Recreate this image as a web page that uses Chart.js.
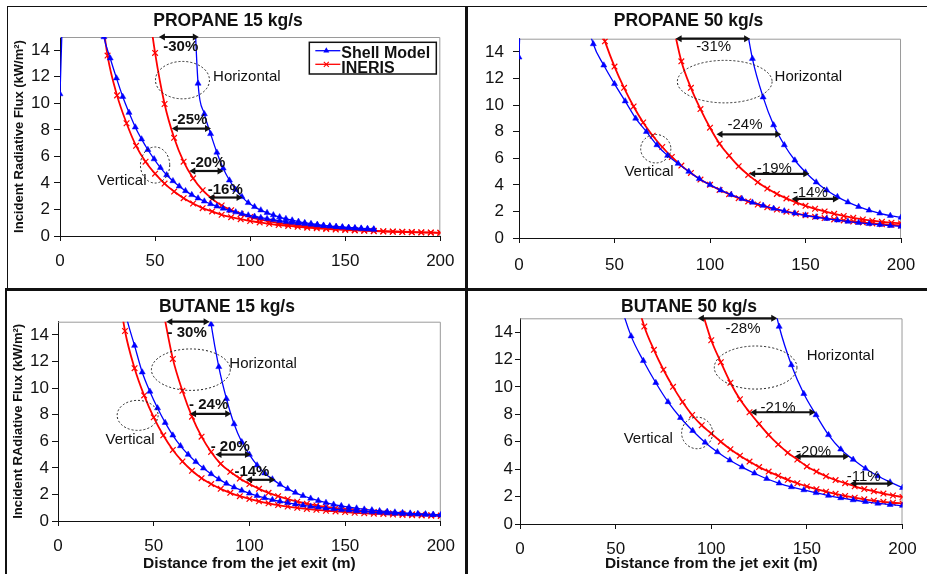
<!DOCTYPE html>
<html>
<head>
<meta charset="utf-8">
<title>Incident radiative flux - Shell Model vs INERIS</title>
<script src="https://cdn.jsdelivr.net/npm/chart.js@4.4.1/dist/chart.umd.min.js"></script>
<style>
  body { margin: 0; background: #fff; }
  #page { position: relative; width: 927px; height: 574px; overflow: hidden; background: #fff; }
  #page canvas { position: absolute; }
  .rule { position: absolute; background: #111; }
</style>
</head>
<body>
<div id="page">
  <canvas id="propane15" width="457" height="281" style="left:8px;top:7px"></canvas>
  <canvas id="propane50" width="459" height="281" style="left:468px;top:7px"></canvas>
  <canvas id="butane15" width="458" height="283" style="left:7px;top:291px"></canvas>
  <canvas id="butane50" width="459" height="283" style="left:468px;top:291px"></canvas>
  <div class="rule" style="left:7px;top:6px;width:920px;height:1px"></div>
  <div class="rule" style="left:7px;top:6px;width:1px;height:282px"></div>
  <div class="rule" style="left:5px;top:288px;width:2px;height:286px"></div>
  <div class="rule" style="left:465px;top:6px;width:3px;height:568px"></div>
  <div class="rule" style="left:5px;top:288px;width:922px;height:3px"></div>
</div>
<script>
// distances (m) and incident flux (kW/m2)
// horizontal-flame curves start later: they line up with the END of their x grid

// PROPANE 15 kg/s
const p15ShellX = [0, 3.3, 6.6, 9.9, 13.2, 16.5, 19.8, 23.1, 26.4, 29.7, 33, 36.3, 39.6, 42.9, 46.2, 49.5, 52.8, 56.1, 59.4, 62.7,
  66, 69.3, 72.6, 75.9, 79.2, 82.5, 85.8, 89.1, 92.4, 95.7, 99, 102.3, 105.6, 108.9, 112.2, 115.5, 118.8, 122.1, 125.4, 128.7,
  132, 135.3, 138.6, 141.9, 145.2, 148.5, 151.8, 155.1, 158.4, 161.7, 165];
const p15ShellVert = [10.7, 25, 30, 30, 27, 22, 18, 15.0, 13.4, 11.9, 10.5, 9.3, 8.2, 7.3, 6.5, 5.8, 5.15, 4.6, 4.15, 3.75,
  3.4, 3.1, 2.85, 2.62, 2.42, 2.24, 2.08, 1.93, 1.8, 1.68, 1.57, 1.47, 1.38, 1.3, 1.22, 1.15, 1.08, 1.02, 0.97, 0.92,
  0.87, 0.82, 0.78, 0.74, 0.7, 0.67, 0.64, 0.61, 0.58, 0.55, 0.52];
const p15ShellHorz = [22, 11.5, 9.2, 7.7, 6.3, 5.1, 4.2, 3.5, 2.95, 2.5, 2.2, 1.95, 1.75, 1.58, 1.43, 1.3, 1.19, 1.09, 1.0, 0.93,
  0.86, 0.8, 0.75, 0.7, 0.66, 0.62, 0.58, 0.55, 0.52, 0.49];
const p15InerisX = [20, 25, 30, 35, 40, 45, 50, 55, 60, 65, 70, 75, 80, 85, 90, 95, 100, 105, 110, 115, 120, 125, 130, 135,
  140, 145, 150, 155, 160, 165, 170, 175, 180, 185, 190, 195, 200];
const p15InerisVert = [19, 13.6, 10.6, 8.5, 6.8, 5.6, 4.7, 3.95, 3.35, 2.85, 2.45, 2.1, 1.85, 1.6, 1.42, 1.27, 1.13, 1.02, 0.92, 0.83,
  0.76, 0.69, 0.63, 0.58, 0.53, 0.49, 0.45, 0.42, 0.39, 0.36, 0.34, 0.32, 0.3, 0.28, 0.27, 0.25, 0.24];
const p15InerisHorz = [19, 13.8, 9.95, 7.4, 5.6, 4.35, 3.45, 2.8, 2.3, 1.95, 1.65, 1.43, 1.25, 1.1, 0.98, 0.88, 0.8, 0.72, 0.66, 0.6,
  0.55, 0.5, 0.46, 0.42, 0.39, 0.36, 0.34, 0.32, 0.3, 0.28, 0.27, 0.25];

// PROPANE 50 kg/s
const p50ShellX = [0, 5.6, 11.1, 16.7, 22.2, 27.8, 33.3, 38.9, 44.4, 50, 55.6, 61.1, 66.7, 72.2, 77.8, 83.3, 88.9, 94.4, 100,
  105.6, 111.1, 116.7, 122.2, 127.8, 133.3, 138.9, 144.4, 150, 155.6, 161.1, 166.7, 172.2, 177.8, 183.3, 188.9, 194.4, 200];
const p50ShellVert = [13.6, 40, 45, 42, 35, 26, 18, 14.6, 13.0, 11.6, 10.3, 9.0, 8.0, 7.0, 6.2, 5.6, 5.0, 4.45, 4.0,
  3.6, 3.25, 2.95, 2.68, 2.44, 2.22, 2.03, 1.86, 1.71, 1.57, 1.45, 1.34, 1.24, 1.15, 1.07, 1.0, 0.93, 0.87];
const p50ShellHorz = [18, 13.5, 10.6, 8.5, 7.0, 5.85, 4.95, 4.2, 3.6, 3.1, 2.7, 2.36, 2.08, 1.86, 1.68, 1.55];
const p50InerisX = [40, 45, 50, 55, 60, 65, 70, 75, 80, 85, 90, 95, 100, 105, 110, 115, 120, 125, 130, 135, 140, 145, 150,
  155, 160, 165, 170, 175, 180, 185, 190, 195, 200];
const p50InerisVert = [17, 14.8, 12.9, 11.3, 9.9, 8.7, 7.7, 6.85, 6.1, 5.45, 4.9, 4.4, 4.0, 3.62, 3.3, 3.0, 2.75, 2.52, 2.32, 2.14,
  1.98, 1.84, 1.71, 1.6, 1.5, 1.4, 1.32, 1.24, 1.17, 1.1, 1.04, 0.99, 0.94];
const p50InerisHorz = [16.5, 13.3, 11.3, 9.7, 8.3, 7.1, 6.2, 5.4, 4.75, 4.2, 3.72, 3.32, 2.98, 2.68, 2.42, 2.2, 2.0, 1.82, 1.66, 1.52,
  1.4, 1.3, 1.22, 1.15, 1.1];

// BUTANE 15 kg/s
const b15ShellX = [28, 32, 36, 40, 44, 48, 52, 56, 60, 64, 68, 72, 76, 80, 84, 88, 92, 96, 100, 104, 108, 112, 116, 120, 124,
  128, 132, 136, 140, 144, 148, 152, 156, 160, 164, 168, 172, 176, 180, 184, 188, 192, 196, 200];
const b15ShellVert = [22, 18, 15.2, 13.2, 11.2, 9.75, 8.5, 7.4, 6.45, 5.65, 5.0, 4.45, 3.97, 3.54, 3.15, 2.82, 2.54, 2.3, 2.08, 1.9,
  1.74, 1.6, 1.48, 1.37, 1.27, 1.18, 1.1, 1.03, 0.96, 0.9, 0.85, 0.8, 0.75, 0.71, 0.67, 0.64, 0.6, 0.57, 0.55, 0.52,
  0.5, 0.48, 0.46, 0.44];
const b15ShellHorz = [19, 14.8, 11.6, 9.2, 7.3, 5.95, 5.0, 4.2, 3.6, 3.15, 2.75, 2.42, 2.14, 1.9, 1.7, 1.53, 1.38, 1.25, 1.14, 1.04,
  0.96, 0.88, 0.82, 0.76, 0.71, 0.66, 0.62, 0.58, 0.55, 0.52, 0.49, 0.46];
const b15InerisX = [30, 35, 40, 45, 50, 55, 60, 65, 70, 75, 80, 85, 90, 95, 100, 105, 110, 115, 120, 125, 130, 135, 140, 145,
  150, 155, 160, 165, 170, 175, 180, 185, 190, 195, 200];
const b15InerisVert = [19, 14.3, 11.5, 9.45, 7.8, 6.45, 5.35, 4.48, 3.78, 3.22, 2.78, 2.42, 2.12, 1.87, 1.66, 1.48, 1.33, 1.2, 1.09, 0.99,
  0.91, 0.84, 0.77, 0.72, 0.67, 0.62, 0.58, 0.55, 0.52, 0.49, 0.46, 0.44, 0.42, 0.4, 0.38];
const b15InerisHorz = [15.8, 12.2, 9.8, 7.85, 6.35, 5.2, 4.3, 3.7, 3.2, 2.78, 2.42, 2.12, 1.87, 1.64, 1.45, 1.3, 1.17, 1.06, 0.96, 0.88,
  0.81, 0.74, 0.68, 0.63, 0.58, 0.54, 0.5, 0.47, 0.44, 0.41];

// BUTANE 50 kg/s
const b50ShellX = [45.2, 51.6, 58.1, 64.5, 71, 77.4, 83.9, 90.3, 96.8, 103.2, 109.7, 116.1, 122.6, 129, 135.5, 141.9, 148.4,
  154.8, 161.3, 167.7, 174.2, 180.6, 187.1, 193.5, 200];
const b50ShellVert = [20, 16.5, 13.7, 11.9, 10.3, 8.9, 7.75, 6.8, 5.95, 5.25, 4.65, 4.15, 3.7, 3.3, 2.97, 2.7, 2.48, 2.27, 2.07, 1.9,
  1.75, 1.62, 1.5, 1.41, 1.34];
const b50ShellHorz = [18.5, 14.4, 11.6, 9.5, 7.95, 6.5, 5.45, 4.7, 4.05, 3.5, 3.05, 2.65];
const b50InerisX = [55, 60, 65, 70, 75, 80, 85, 90, 95, 100, 105, 110, 115, 120, 125, 130, 135, 140, 145, 150, 155, 160, 165,
  170, 175, 180, 185, 190, 195, 200];
const b50InerisVert = [21, 17, 14.4, 12.7, 11.25, 10.0, 8.9, 7.95, 7.2, 6.6, 6.0, 5.45, 4.98, 4.55, 4.15, 3.82, 3.52, 3.22, 2.97, 2.74,
  2.54, 2.36, 2.2, 2.05, 1.92, 1.8, 1.7, 1.62, 1.55, 1.5];
const b50InerisHorz = [15.6, 13.4, 11.8, 10.3, 9.1, 8.15, 7.3, 6.5, 5.8, 5.2, 4.7, 4.2, 3.82, 3.48, 3.2, 2.98, 2.75, 2.55, 2.38, 2.22,
  2.08, 1.97];

// annotations, in data units: [from x, to x, at y, label, label x, label y]
const p15Arrows = [[52, 73, 15, '-30%', 63.5, 14.25], [58.8, 79.4, 8.1, '-25%', 68.3, 8.79],
  [68, 86, 4.9, '-20%', 77.8, 5.49], [78, 96, 2.9, '-16%', 86.9, 3.45]];
const p50Arrows = [[82, 121, 15, '-31%', 101.9, 14.4], [103.4, 137.3, 7.8, '-24%', 118.3, 8.54],
  [120.5, 152, 4.83, '-19%', 133.7, 5.23], [142.7, 167.5, 2.94, '-14%', 152.5, 3.42]];
const b15Arrows = [[56.6, 79.2, 15, '- 30%', 67.5, 14.15], [69, 90.5, 8.07, '- 24%', 78.7, 8.75],
  [82.3, 100.8, 5.0, '- 20%', 90, 5.58], [98.2, 113.6, 3.1, '-14%', 101.3, 3.68]];
const b50Arrows = [[93, 134.5, 15, '-28%', 116.6, 14.26], [120.5, 154.5, 8.15, '-21%', 134.9, 8.46],
  [143.6, 172.1, 4.93, '-20%', 153.5, 5.25], [172.6, 195.2, 2.95, '-11%', 179.7, 3.46]];
// dotted ellipses: [centre x, centre y, half width (m), half height (kW/m2)]
const p15Rings = [[64.4, 11.75, 14.2, 1.41], [50, 5.35, 7.7, 1.36]];
const p50Rings = [[107.7, 11.77, 24.8, 1.6], [71.6, 6.72, 7.9, 1.07]];
const b15Rings = [[69.4, 11.39, 20.6, 1.56], [41.6, 7.95, 10.7, 1.13]];
const b50Rings = [[123.2, 11.41, 21.6, 1.57], [92.6, 6.64, 8.1, 1.15]];
// [text, left x, middle y]
const p15Words = [['Horizontal', 80.5, 12.0], ['Vertical', 19.6, 4.15]];
const p50Words = [['Horizontal', 133.8, 12.1], ['Vertical', 55.2, 4.98]];
const b15Words = [['Horizontal', 89.5, 11.8], ['Vertical', 24.8, 6.1]];
const b50Words = [['Horizontal', 149.9, 12.26], ['Vertical', 54.2, 6.21]];

const FONT = "'Liberation Sans', Arial, Helvetica, sans-serif";
const BLUE = '#0000ff';
const RED = '#ff0000';
Chart.defaults.font.family = FONT;
Chart.defaults.color = '#111';

function tail(xs, ys) {
  const off = xs.length - ys.length;
  return ys.map((y, i) => ({ x: xs[off + i], y: y }));
}

function curves(sx, sv, sh, ix, iv, ih) {
  const shell = { borderColor: BLUE, backgroundColor: BLUE, borderWidth: 1.3, pointStyle: 'triangle',
    pointRadius: 3.5, pointBackgroundColor: BLUE, pointBorderColor: BLUE, pointBorderWidth: 0.5 };
  const ineris = { borderColor: RED, backgroundColor: RED, borderWidth: 1.8, pointStyle: 'crossRot',
    pointRadius: 4, pointBorderColor: RED, pointBorderWidth: 1.2 };
  return [
    Object.assign({ label: 'Shell Model', data: tail(sx, sv) }, shell),
    Object.assign({ label: 'Shell Model', data: tail(sx, sh) }, shell),
    Object.assign({ label: 'INERIS', data: tail(ix, iv) }, ineris),
    Object.assign({ label: 'INERIS', data: tail(ix, ih) }, ineris)
  ];
}

// grey top and right edge of the plot area
const frame = {
  id: 'frame',
  beforeDatasetsDraw(chart) {
    const a = chart.chartArea, c = chart.ctx;
    c.save();
    c.strokeStyle = '#9a9a9a';
    c.lineWidth = 1;
    c.beginPath();
    c.moveTo(a.left, a.top + 0.5);
    c.lineTo(a.right - 0.5, a.top + 0.5);
    c.lineTo(a.right - 0.5, a.bottom);
    c.stroke();
    c.restore();
  }
};

function arrowHead(c, x, y, dir) {
  c.beginPath();
  c.moveTo(x, y);
  c.lineTo(x - dir * 6, y - 3.5);
  c.lineTo(x - dir * 6, y + 3.5);
  c.closePath();
  c.fill();
}

function drawLegend(c, a) {
  const L = a.right - 131, T = a.top + 5.3, W = 127, H = 31.7;
  c.fillStyle = '#fff';
  c.fillRect(L, T, W, H);
  // Shell Model
  c.strokeStyle = BLUE; c.fillStyle = BLUE; c.lineWidth = 1.3;
  c.beginPath(); c.moveTo(L + 6, T + 8.4); c.lineTo(L + 31, T + 8.4); c.stroke();
  c.beginPath(); c.moveTo(L + 17, T + 4.9); c.lineTo(L + 20, T + 10.2); c.lineTo(L + 14, T + 10.2); c.closePath(); c.fill();
  // INERIS
  c.strokeStyle = RED; c.lineWidth = 1.3;
  c.beginPath(); c.moveTo(L + 6, T + 22); c.lineTo(L + 31, T + 22); c.stroke();
  c.lineWidth = 1.1;
  c.beginPath(); c.moveTo(L + 14.5, T + 19.5); c.lineTo(L + 19.5, T + 24.5);
  c.moveTo(L + 19.5, T + 19.5); c.lineTo(L + 14.5, T + 24.5); c.stroke();
  c.fillStyle = '#111';
  c.font = 'bold 16px ' + FONT;
  c.textAlign = 'left'; c.textBaseline = 'middle';
  c.fillText('Shell Model', L + 32, T + 11);
  c.fillText('INERIS', L + 32, T + 26.5);
  c.strokeStyle = '#111'; c.lineWidth = 1.5;
  c.strokeRect(L, T, W, H);
}

function notes(p) {
  return {
    id: 'notes',
    afterDatasetsDraw(chart) {
      const c = chart.ctx, sx = chart.scales.x, sy = chart.scales.y;
      const X = v => sx.getPixelForValue(v), Y = v => sy.getPixelForValue(v);
      c.save();
      c.strokeStyle = '#222'; c.lineWidth = 1; c.setLineDash([2, 2]);
      p.rings.forEach(e => {
        c.beginPath();
        c.ellipse(X(e[0]), Y(e[1]), X(e[0] + e[2]) - X(e[0]), Y(e[1]) - Y(e[1] + e[3]), 0, 0, 2 * Math.PI);
        c.stroke();
      });
      c.setLineDash([]);
      c.fillStyle = '#111'; c.strokeStyle = '#111'; c.lineWidth = 2.2;
      p.arrows.forEach(a => {
        const x1 = X(a[0]), x2 = X(a[1]), y = Y(a[2]);
        c.beginPath(); c.moveTo(x1 + 3, y); c.lineTo(x2 - 3, y); c.stroke();
        arrowHead(c, x1, y, -1);
        arrowHead(c, x2, y, 1);
      });
      c.textAlign = 'center'; c.textBaseline = 'middle';
      c.font = (p.boldPct ? 'bold ' : '') + '15px ' + FONT;
      p.arrows.forEach(a => c.fillText(a[3], X(a[4]), Y(a[5])));
      c.textAlign = 'left';
      c.font = '15px ' + FONT;
      p.words.forEach(w => c.fillText(w[0], X(w[1]), Y(w[2])));
      if (p.legend) drawLegend(c, chart.chartArea);
      c.restore();
    }
  };
}

function panel(id, p) {
  return new Chart(document.getElementById(id), {
    type: 'line',
    data: { datasets: p.datasets },
    options: {
      responsive: false,
      animation: false,
      events: [],
      layout: { padding: { left: 0, right: p.padRight, top: 0, bottom: 0 } },
      elements: { line: { cubicInterpolationMode: 'monotone' } },
      plugins: {
        legend: { display: false },
        tooltip: { enabled: false },
        title: { display: true, text: p.title, color: '#111', font: { size: 17.5, weight: 'bold' },
          padding: { top: p.titleTop, bottom: p.titleBottom } }
      },
      scales: {
        x: {
          type: 'linear', min: 0, max: 200,
          border: { color: '#111' },
          grid: { drawOnChartArea: false, color: '#111', tickLength: 5 },
          ticks: { stepSize: 50, padding: p.xTickPad, font: { size: 17 }, color: '#111', maxRotation: 0 },
          title: { display: !!p.xTitle, text: p.xTitle || '', color: '#111', font: { size: 15.5, weight: 'bold' },
            padding: { top: 0, bottom: 1 } },
          afterFit: s => { s.height = p.xH; }
        },
        y: {
          type: 'linear', min: 0, max: 15,
          border: { color: '#111' },
          grid: { drawOnChartArea: false, color: '#111', tickLength: p.yTickLen },
          ticks: { stepSize: 2, includeBounds: false, padding: p.yTickPad, font: { size: 17 }, color: '#111' },
          title: { display: !!p.yTitle, text: p.yTitle || '', color: '#111', font: { size: 13, weight: 'bold' },
            padding: { top: 4, bottom: 0 } },
          afterFit: s => { s.width = p.yW; }
        }
      }
    },
    plugins: [frame, notes(p)]
  });
}

panel('propane15', {
  title: 'PROPANE 15 kg/s', yTitle: 'Incident Radiative Flux (kW/m²)',
  datasets: curves(p15ShellX, p15ShellVert, p15ShellHorz, p15InerisX, p15InerisVert, p15InerisHorz),
  arrows: p15Arrows, rings: p15Rings, words: p15Words, boldPct: true, legend: true,
  yW: 52, padRight: 17, titleTop: 4, titleBottom: 5, xH: 52, yTickLen: 6, yTickPad: 4, xTickPad: 10.5
});
panel('propane50', {
  title: 'PROPANE 50 kg/s',
  datasets: curves(p50ShellX, p50ShellVert, p50ShellHorz, p50InerisX, p50InerisVert, p50InerisHorz),
  arrows: p50Arrows, rings: p50Rings, words: p50Words, boldPct: false,
  yW: 51, padRight: 18, titleTop: 4, titleBottom: 6.7, xH: 50, yTickLen: 6, yTickPad: 9, xTickPad: 11.8
});
panel('butane15', {
  title: 'BUTANE 15 kg/s', yTitle: 'Incident RAdiative Flux (kW/m²)', xTitle: 'Distance from the jet exit (m)',
  datasets: curves(b15ShellX, b15ShellVert, b15ShellHorz, b15InerisX, b15InerisVert, b15InerisHorz),
  arrows: b15Arrows, rings: b15Rings, words: b15Words, boldPct: true,
  yW: 51, padRight: 18, titleTop: 5.5, titleBottom: 4.2, xH: 53, yTickLen: 6, yTickPad: 3, xTickPad: 10
});
panel('butane50', {
  title: 'BUTANE 50 kg/s', xTitle: 'Distance from the jet exit (m)',
  datasets: curves(b50ShellX, b50ShellVert, b50ShellHorz, b50InerisX, b50InerisVert, b50InerisHorz),
  arrows: b50Arrows, rings: b50Rings, words: b50Words, boldPct: false,
  yW: 52, padRight: 17, titleTop: 5.5, titleBottom: 0.8, xH: 50, yTickLen: 5, yTickPad: 2, xTickPad: 10.3
});
</script>
</body>
</html>
